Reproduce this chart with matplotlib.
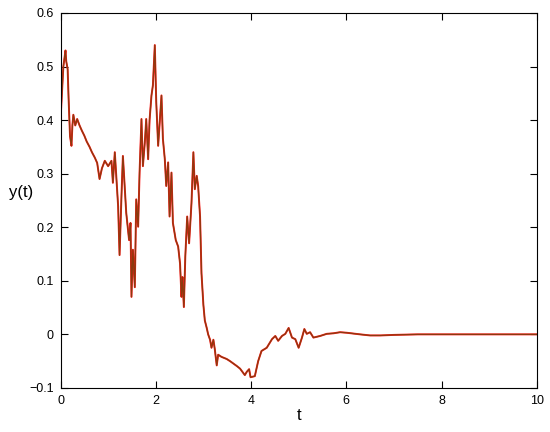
import matplotlib
matplotlib.use("Agg")
import matplotlib.pyplot as plt
from matplotlib.ticker import FuncFormatter

t = [0.00, 0.03, 0.06, 0.09, 0.105, 0.12, 0.15, 0.17, 0.20, 0.23, 0.25, 0.27, 0.31, 0.35,
     0.40, 0.45, 0.50, 0.55, 0.61, 0.66, 0.72, 0.77, 0.82, 0.87, 0.93, 1.00, 1.07, 1.10,
     1.14, 1.21, 1.24, 1.28, 1.31, 1.38, 1.44, 1.47, 1.49, 1.52, 1.56, 1.59, 1.63, 1.66,
     1.70, 1.73, 1.77, 1.80, 1.84, 1.87, 1.91, 1.94, 1.98, 2.01, 2.05, 2.12, 2.15, 2.19,
     2.22, 2.26, 2.29, 2.33, 2.36, 2.42, 2.47, 2.51, 2.54, 2.56, 2.59, 2.62, 2.66, 2.70,
     2.75, 2.79, 2.82, 2.86, 2.89, 2.93, 2.96, 3.00, 3.03, 3.07, 3.10, 3.14, 3.17, 3.21,
     3.24, 3.28, 3.31, 3.38, 3.49, 3.56, 3.70, 3.77, 3.87, 3.91, 3.96, 3.99, 4.08, 4.15,
     4.22, 4.33, 4.44, 4.51, 4.57, 4.65, 4.72, 4.79, 4.86, 4.93, 5.00, 5.07, 5.12, 5.17,
     5.24, 5.31, 5.45, 5.59, 5.73, 5.87, 6.01, 6.29, 6.50, 6.72, 7.00, 7.50, 8.00, 9.00, 10.0]
y = [0.40, 0.45, 0.50, 0.52, 0.53, 0.51, 0.495, 0.44, 0.37, 0.352, 0.39, 0.41, 0.39, 0.402,
     0.39, 0.38, 0.371, 0.36, 0.35, 0.34, 0.33, 0.32, 0.29, 0.31, 0.324, 0.314, 0.324, 0.283,
     0.34, 0.239, 0.148, 0.258, 0.333, 0.227, 0.176, 0.208, 0.07, 0.158, 0.088, 0.252, 0.201, 0.302,
     0.402, 0.314, 0.358, 0.402, 0.327, 0.40, 0.446, 0.465, 0.54, 0.434, 0.352, 0.446, 0.365, 0.327,
     0.277, 0.321, 0.22, 0.302, 0.208, 0.176, 0.164, 0.132, 0.07, 0.107, 0.051, 0.145, 0.22, 0.17,
     0.245, 0.34, 0.271, 0.296, 0.277, 0.22, 0.114, 0.055, 0.026, 0.012, 0.0, -0.01, -0.025, -0.01,
     -0.028, -0.058, -0.038, -0.042, -0.046, -0.05, -0.059, -0.064, -0.076, -0.07, -0.065, -0.08, -0.078, -0.05,
     -0.031, -0.025, -0.009, -0.003, -0.012, -0.003, 0.001, 0.012, -0.006, -0.009, -0.025, -0.006, 0.01, 0.001,
     0.004, -0.006, -0.003, 0.001, 0.002, 0.004, 0.003, 0.0, -0.002, -0.002, -0.001, 0.0, 0.0, 0.0, 0.0]

xticks = [0, 2, 4, 6, 8, 10]
yticks = [-0.1, 0, 0.1, 0.2, 0.3, 0.4, 0.5, 0.6]

plt.rcParams['font.family'] = ['Liberation Sans', 'DejaVu Sans']

fig = plt.figure(figsize=(5.5, 4.32), dpi=100)
ax = fig.add_axes([0.110, 0.102, 0.866, 0.868])

ax.plot(t, y, color='#ff1a1a', lw=1.4)
ax.plot(t, y, color='#8b3a0e', lw=0.9)

ax.set_xlim(0, 10)
ax.set_ylim(-0.1, 0.6)
ax.set_xticks(xticks)
ax.set_yticks(yticks)

def fmt(v, pos):
    s = '%g' % round(v, 3)
    return s.replace('-', '\u2212')

ax.xaxis.set_major_formatter(FuncFormatter(fmt))
ax.yaxis.set_major_formatter(FuncFormatter(fmt))
ax.tick_params(direction='in', length=5, width=0.8, top=True, right=True,
               labelsize=9, pad=5, colors='black')
for sp in ax.spines.values():
    sp.set_linewidth(0.8)

ax.set_xlabel('t', fontsize=12, labelpad=1)
ax.set_ylabel('y(t)', fontsize=12, rotation=0, labelpad=0)
ax.yaxis.set_label_coords(-0.083, 0.50)

fig.savefig('out.png', dpi=100)
